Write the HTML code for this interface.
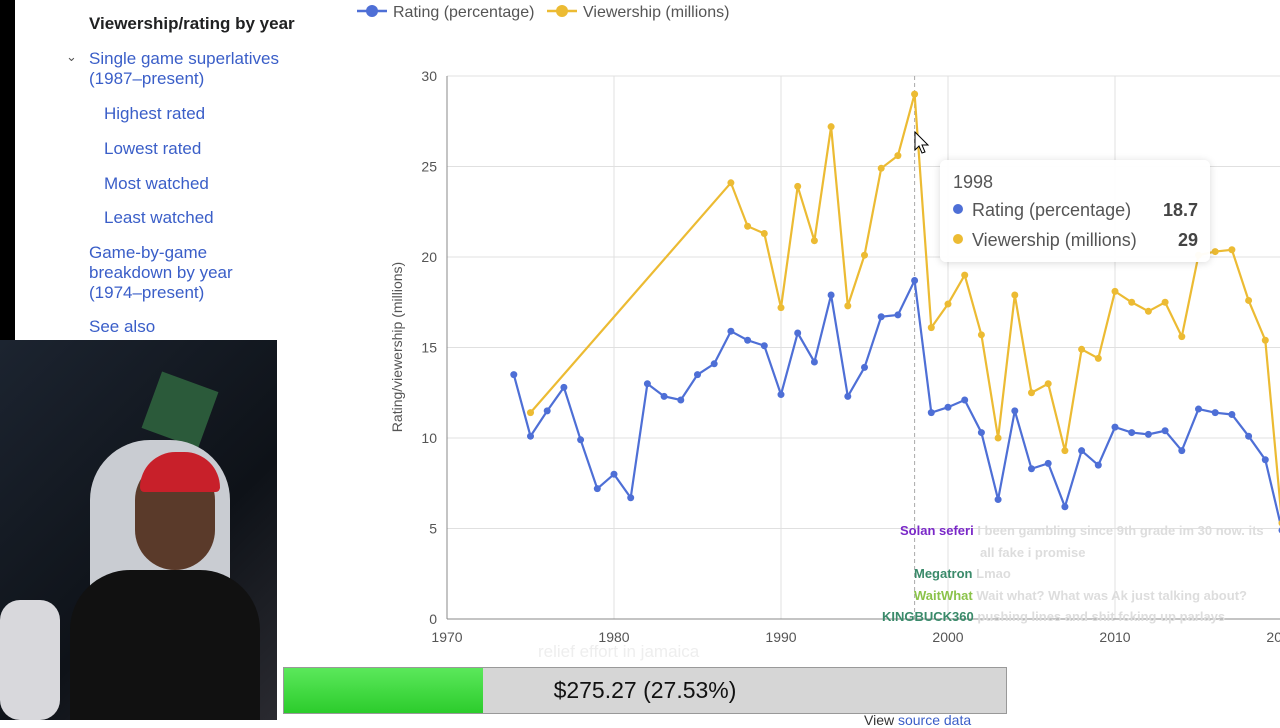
<!DOCTYPE html>
<html><head><meta charset="utf-8">
<style>
body{margin:0;width:1280px;height:720px;overflow:hidden;background:#fff;font-family:"Liberation Sans",sans-serif;position:relative}
.a{position:absolute}
.nav{color:#3a5ec8;font-size:17px;line-height:20px}
</style></head><body>
<div class="a" style="left:0;top:0;width:15px;height:340px;background:#000"></div>
<div class="a" style="left:89px;top:14px;font-size:17px;font-weight:bold;color:#202122">Viewership/rating by year</div>
<div class="a" style="left:66px;top:49px;font-size:13px;color:#555">&#8964;</div>
<div class="a nav" style="left:89px;top:49px">Single game superlatives<br>(1987–present)</div>
<div class="a nav" style="left:104px;top:104px">Highest rated</div>
<div class="a nav" style="left:104px;top:139px">Lowest rated</div>
<div class="a nav" style="left:104px;top:174px">Most watched</div>
<div class="a nav" style="left:104px;top:208px">Least watched</div>
<div class="a nav" style="left:89px;top:243px">Game-by-game<br>breakdown by year<br>(1974–present)</div>
<div class="a nav" style="left:89px;top:317px">See also</div>

<div class="a" style="left:0;top:340px;width:277px;height:380px;background:linear-gradient(135deg,#1c2430,#0e1218 60%,#2a2a30);overflow:hidden">
 <div class="a" style="left:150px;top:40px;width:60px;height:60px;background:#2b5a3a;transform:rotate(20deg)"></div>
 <div class="a" style="left:90px;top:100px;width:140px;height:280px;background:#c9ccd2;border-radius:60px 60px 0 0"></div>
 <div class="a" style="left:135px;top:120px;width:80px;height:110px;background:#5a3a2a;border-radius:40px"></div>
 <div class="a" style="left:140px;top:112px;width:80px;height:40px;background:#c8202a;border-radius:40px 40px 5px 5px"></div>
 <div class="a" style="left:70px;top:230px;width:190px;height:150px;background:#111;border-radius:60px 60px 0 0"></div>
 <div class="a" style="left:0;top:260px;width:60px;height:120px;background:#d8d8dc;border-radius:20px"></div>
</div>

<svg class="a" id="chart" style="left:0;top:0" width="1300" height="720"></svg>

<div class="a" style="left:940px;top:160px;width:270px;height:102px;background:rgba(255,255,255,.96);border-radius:6px;box-shadow:0 1px 8px rgba(0,0,0,.15);font-size:18px;color:#555">
 <div class="a" style="left:13px;top:12px">1998</div>
 <div class="a" style="left:13px;top:44px;width:10px;height:10px;border-radius:50%;background:#4e6fd6"></div>
 <div class="a" style="left:32px;top:40px">Rating (percentage)</div>
 <div class="a" style="right:12px;top:40px;font-weight:bold;color:#444">18.7</div>
 <div class="a" style="left:13px;top:74px;width:10px;height:10px;border-radius:50%;background:#ecbb33"></div>
 <div class="a" style="left:32px;top:70px">Viewership (millions)</div>
 <div class="a" style="right:12px;top:70px;font-weight:bold;color:#444">29</div>
</div>

<div class="a" style="left:850px;top:520px;font-size:13px;font-weight:bold;line-height:21.5px;width:430px">
 <div><span style="color:#7a28c8;margin-left:50px">Solan seferi</span> <span style="color:#ddd">I been gambling since 9th grade im 30 now. its</span></div>
 <div style="color:#ddd;margin-left:130px">all fake i promise</div>
 <div><span style="color:#3a8a6a;margin-left:64px">Megatron</span> <span style="color:#ddd">Lmao</span></div>
 <div><span style="color:#8bc34a;margin-left:64px">WaitWhat</span> <span style="color:#ddd">Wait what? What was Ak just talking about?</span></div>
 <div><span style="color:#3a8a6a;margin-left:32px">KINGBUCK360</span> <span style="color:#ddd">pushing lines and shit fcking up parlays</span></div>
</div>
<div class="a" style="left:538px;top:642px;font-size:17px;color:#eee">relief effort in jamaica</div>

<div class="a" style="left:283px;top:667px;width:722px;height:45px;background:#d6d6d6;border:1px solid #999">
 <div class="a" style="left:0;top:0;width:199px;height:45px;background:linear-gradient(#5be85b,#2ccc2c)"></div>
 <div class="a" style="left:0;top:9px;width:722px;text-align:center;font-size:23px;color:#111">$275.27 (27.53%)</div>
</div>
<div class="a" style="left:864px;top:712px;font-size:14px;color:#333">View <span style="color:#3a5ec8">source data</span></div>

<script>
const years=[1974,1975,1976,1977,1978,1979,1980,1981,1982,1983,1984,1985,1986,1987,1988,1989,1990,1991,1992,1993,1994,1995,1996,1997,1998,1999,2000,2001,2002,2003,2004,2005,2006,2007,2008,2009,2010,2011,2012,2013,2014,2015,2016,2017,2018,2019,2020];
const rating=[13.5,10.1,11.5,12.8,9.9,7.2,8.0,6.7,13.0,12.3,12.1,13.5,14.1,15.9,15.4,15.1,12.4,15.8,14.2,17.9,12.3,13.9,16.7,16.8,18.7,11.4,11.7,12.1,10.3,6.6,11.5,8.3,8.6,6.2,9.3,8.5,10.6,10.3,10.2,10.4,9.3,11.6,11.4,11.3,10.1,8.8,4.9];
const viewYears=[1975,1987,1988,1989,1990,1991,1992,1993,1994,1995,1996,1997,1998,1999,2000,2001,2002,2003,2004,2005,2006,2007,2008,2009,2010,2011,2012,2013,2014,2015,2016,2017,2018,2019,2020];
const viewership=[11.4,24.1,21.7,21.3,17.2,23.9,20.9,27.2,17.3,20.1,24.9,25.6,29,16.1,17.4,19.0,15.7,10.0,17.9,12.5,13.0,9.3,14.9,14.4,18.1,17.5,17.0,17.5,15.6,20.1,20.3,20.4,17.6,15.4,5.3];
const xTicks=[1970,1980,1990,2000,2010,2020];
const yTicks=[0,5,10,15,20,25,30];
const svg=document.getElementById('chart');const NS='http://www.w3.org/2000/svg';
const x=v=>447+(v-1970)*16.7, y=v=>619-v*18.1;
function mk(t,a,p){const e=document.createElementNS(NS,t);for(const k in a)e.setAttribute(k,a[k]);(p||svg).appendChild(e);return e;}
yTicks.forEach(t=>{const l=mk('line',{x1:447,x2:1300,y1:y(t),y2:y(t),stroke:'#e0e0e0'});

const tx=mk('text',{x:437,y:y(t)+5,'text-anchor':'end','font-size':14,fill:'#555'});tx.textContent=t;
});
xTicks.forEach(t=>{if(t>1970){const l=mk('line',{x1:x(t),x2:x(t),y1:76,y2:619,stroke:'#e0e0e0'});
}
const tx=mk('text',{x:x(t),y:642,'text-anchor':'middle','font-size':14,fill:'#555'});tx.textContent=t;
});
const ax=mk('line',{x1:447,x2:447,y1:76,y2:619,stroke:'#888'});
const ax2=mk('line',{x1:447,x2:1300,y1:619,y2:619,stroke:'#888'});
const hl=mk('line',{x1:x(1998),x2:x(1998),y1:76,y2:619,stroke:'#aaa','stroke-dasharray':'4 3'});
const yt=mk('text',{x:0,y:0,transform:'translate(402,347) rotate(-90)','text-anchor':'middle','font-size':14,fill:'#555'});yt.textContent='Rating/viewership (millions)';

function series(xs,vs,c,name){const p=mk('polyline',{points:xs.map((v,i)=>x(v)+','+y(vs[i])).join(' '),fill:'none',stroke:c,'stroke-width':2.2});

xs.forEach((v,i)=>{const d=mk('circle',{cx:x(v),cy:y(vs[i]),r:3.5,fill:c});});}
series(years,rating,'#4e6fd6','rating');
series(viewYears,viewership,'#ecbb33','viewership');
[[357,'#4e6fd6','Rating (percentage)','legend-rating'],[547,'#ecbb33','Viewership (millions)','legend-viewership']].forEach(([lx,c,t,n])=>{
const g=mk('g',{});
mk('line',{x1:lx,x2:lx+30,y1:11,y2:11,stroke:c,'stroke-width':2.5},g);mk('circle',{cx:lx+15,cy:11,r:6,fill:c},g);
const tx=mk('text',{x:lx+36,y:17,'font-size':16,fill:'#555'},g);tx.textContent=t;});
const cur=mk('path',{d:'M915 132 L915 150 L919 146 L922 153 L925 152 L922 145 L928 145 Z',fill:'#fff',stroke:'#000'});

</script>
</body></html>
